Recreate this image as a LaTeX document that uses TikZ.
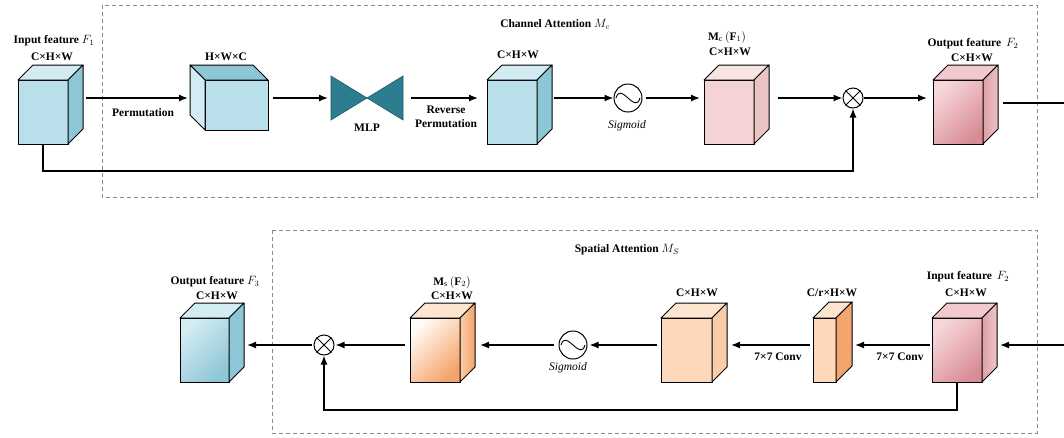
\documentclass[tikz,border=0pt]{standalone}
\usepackage{fontspec}
\setmainfont{Liberation Serif}
\usetikzlibrary{arrows.meta,calc}
\definecolor{blueF}{HTML}{B9DFEA}
\definecolor{blueT}{HTML}{D3ECF3}
\definecolor{blueS}{HTML}{8DC6D6}
\definecolor{blueD}{HTML}{8EC7D6}
\definecolor{teal}{HTML}{2C7D8F}
\definecolor{pinkF}{HTML}{F3D3D3}
\definecolor{pinkT}{HTML}{F9E4E4}
\definecolor{pinkS}{HTML}{EBC4C4}
\definecolor{redA}{HTML}{F6D6D9}
\definecolor{redB}{HTML}{D88D96}
\definecolor{redT}{HTML}{F2C9CD}
\definecolor{redS}{HTML}{DDA0A7}
\definecolor{oraA}{HTML}{FFFBF7}
\definecolor{oraB}{HTML}{F4A46A}
\definecolor{oraF}{HTML}{FCD7B9}
\definecolor{oraT}{HTML}{FDE5D0}
\definecolor{oraS}{HTML}{F9CDA8}
\definecolor{oraD}{HTML}{F2A56E}
\definecolor{dgray}{HTML}{8A8A8A}
\tikzset{
  face/.style={draw=black, line width=1pt, line join=round, inner sep=0pt, outer sep=0pt},
  arr/.style={line width=1.3pt, -{Latex[length=9pt,width=7pt]}},
  line/.style={line width=1.3pt},
  lbl/.style={font=\bfseries\fontsize{11.5}{14}\selectfont, inner sep=0pt},
  itl/.style={font=\itshape\fontsize{11.5}{14}\selectfont, inner sep=0pt},
  dbox/.style={draw=dgray, dashed, line width=0.8pt, dash pattern=on 4pt off 3pt},
  sigc/.style={circle, draw=black, line width=1pt, minimum size=28pt, inner sep=0pt},
  otc/.style={circle, draw=black, line width=1pt, minimum size=20pt, inner sep=0pt},
}
% cube seen from the right: name, x, y, w, h, depth, front style, top style, side style
\newcommand\cubeR[9]{%
  \node[face,minimum width=#4,minimum height=#5,#7] (#1) at (#2,#3) {};
  \draw[face,#8] (#1.north west) -- ++(#6,-#6) -- ++(#4,0) -- (#1.north east) -- cycle;
  \draw[face,#9] (#1.north east) -- ++(#6,-#6) -- ++(0,#5) -- (#1.south east) -- cycle;
}
\newcommand\cubeL[9]{%
  \node[face,minimum width=#4,minimum height=#5,#7] (#1) at (#2,#3) {};
  \draw[face,#8] (#1.north east) -- ++(-#6,-#6) -- ++(-#4,0) -- (#1.north west) -- cycle;
  \draw[face,#9] (#1.north west) -- ++(-#6,-#6) -- ++(0,#5) -- (#1.south west) -- cycle;
}
\newcommand\sigcurve[1]{%
  \draw[line width=0.9pt] ($(#1.center)+(-12,0)$) .. controls ($(#1.center)+(-7,-17)$) and ($(#1.center)+(7,17)$) .. ($(#1.center)+(12,0)$);
}
\newcommand\otcross[1]{%
  \draw[line width=1pt] (#1.north west) -- (#1.south east) (#1.north east) -- (#1.south west);
}
\begin{document}
\begin{tikzpicture}[x=1pt,y=-1pt]
\useasboundingbox (0,0) rectangle (1064,437);
% dashed frames
\draw[dbox] (102,5) rectangle (1037,197);
\draw[dbox] (272,230) rectangle (1037,433);
\node[lbl] (tCA) at (555,24) {Channel Attention $M_{c}$};
\node[lbl] (tSA) at (627,250) {Spatial Attention $M_{S}$};

% ---------------- top row ----------------
\cubeR{in1}{43}{112}{50}{64}{15}{fill=blueF}{fill=blueT}{fill=blueS}
\node[lbl] (in1a) at (54,41) {Input feature $F_1$};
\node[lbl] (in1b) at (52,57) {C×H×W};

\cubeL{perm}{236.5}{105}{63}{50}{15}{fill=blueF}{fill=blueS}{fill=blueT}
\node[lbl] (permb) at (226,57) {H×W×C};

\coordinate (mlpC) at (367,98);
\coordinate (mlpL) at (331,98);
\coordinate (mlpR) at (403,98);
\fill[teal, draw=teal!70!black, line width=0.6pt] (331,76) -- (mlpC) -- (331,120) -- cycle;
\fill[teal, draw=teal!70!black, line width=0.6pt] (403,76) -- (mlpC) -- (403,120) -- cycle;
\node[lbl] (mlpt) at (367,128) {MLP};

\cubeR{cw3}{512}{112}{50}{64}{15}{fill=blueF}{fill=blueT}{fill=blueS}
\node[lbl] (cw3b) at (518,55) {C×H×W};

\node[sigc] (sig1) at (628,98) {};
\sigcurve{sig1}
\node[itl] (sig1t) at (627,126) {Sigmoid};

\cubeR{mc}{729}{112}{50}{64}{15}{fill=pinkF}{fill=pinkT}{fill=pinkS}
\node[lbl] (mca) at (727,37) {$\mathbf{M}_{\mathrm{c}}\,(\mathbf{F}_1)$};
\node[lbl] (mcb) at (730,52) {C×H×W};

\node[otc] (ot1) at (853,98) {};
\otcross{ot1}

\cubeR{out2}{958}{112}{50}{64}{15}{top color=redA, bottom color=redB, shading angle=45}{fill=redT}{left color=redS, right color=redA!60!redS}
\node[lbl] (out2a) at (973,44) {Output feature \,$F_2$};
\node[lbl] (out2b) at (972,58) {C×H×W};

\node[lbl] (perml) at (143,113) {Permutation};
\node[lbl, align=center] (rperm) at (446,117) {Reverse\\Permutation};

\coordinate (edgeT) at (1064,103);

\draw[arr] ($(in1.east)+(18,-14)$) -- ($(perm.west)+(-17,-7)$);
\draw[arr] ($(perm.east)+(5,-7)$) -- ($(mlpL)+(-3,0)$);
\draw[arr] ($(mlpR)+(8,0)$) -- ($(cw3.west)+(-9,-14)$);
\draw[arr] ($(cw3.east)+(17,-14)$) -- (sig1.west);
\draw[arr] ($(sig1.east)+(3,0)$) -- ($(mc.west)+(-4,-14)$);
\draw[arr] ($(mc.east)+(24,-14)$) -- (ot1.west);
\draw[arr] (ot1.east) -- ($(out2.west)+(-6,-14)$);
\draw[line] ($(out2.east)+(20,-9)$) -- (edgeT);
\draw[arr] (in1.south) -- ++(0,27) -| (ot1.south);

% ---------------- bottom row ----------------
\cubeR{out3}{204.5}{350}{49}{64}{15}{top color=blueF!60!white, bottom color=blueD, shading angle=45}{fill=blueT}{fill=blueS}
\node[lbl] (out3a) at (215,282) {Output feature $F_3$};
\node[lbl] (out3b) at (217,296) {C×H×W};

\node[otc] (ot2) at (324,345) {};
\otcross{ot2}

\cubeR{ms}{435}{350}{50}{64}{15}{top color=oraA, bottom color=oraB, shading angle=45}{fill=oraT}{left color=oraS, right color=oraB}
\node[lbl] (msa) at (452,282) {$\mathbf{M}_{\mathrm{s}}\,(\mathbf{F}_2)$};
\node[lbl] (msb) at (452,296) {C×H×W};

\node[sigc] (sig2) at (573,345) {};
\sigcurve{sig2}
\node[itl] (sig2t) at (568,368) {Sigmoid};

\cubeR{cw4}{686.5}{350}{51}{64}{15}{fill=oraF}{fill=oraT}{fill=oraS}
\node[lbl] (cw4b) at (697,293) {C×H×W};

\cubeR{thin}{824.5}{350}{23}{64}{16}{fill=oraF}{fill=oraT}{fill=oraD}
\node[lbl] (thinb) at (832,293) {C/r×H×W};

\cubeR{in2}{957}{350}{50}{64}{15}{top color=redA, bottom color=redB, shading angle=45}{fill=redT}{left color=redS, right color=redA!70!redS}
\node[lbl] (in2a) at (968,277) {Input feature \,$F_2$};
\node[lbl] (in2b) at (966,293) {C×H×W};

\node[lbl] (conv1) at (778,357) {7×7 Conv};
\node[lbl] (conv2) at (900,357) {7×7 Conv};

\coordinate (edgeB) at (1064,345);

\draw[arr] (edgeB) -- ($(in2.east)+(18,-5)$);
\draw[arr] ($(in2.west)+(-2,-5)$) -- ($(thin.east)+(19,-5)$);
\draw[arr] ($(thin.west)+(-3,-5)$) -- ($(cw4.east)+(19,-5)$);
\draw[arr] ($(cw4.west)+(-4,-5)$) -- ($(sig2.east)+(2,0)$);
\draw[arr] ($(sig2.west)+(-5,0)$) -- ($(ms.east)+(20,-5)$);
\draw[arr] ($(ms.west)+(-5,-5)$) -- ($(ot2.east)+(1,0)$);
\draw[arr] ($(ot2.west)+(-2,0)$) -- ($(out3.east)+(18,-5)$);
\draw[arr] (in2.south) -- ++(0,28) -| (ot2.south);
\end{tikzpicture}
\end{document}
